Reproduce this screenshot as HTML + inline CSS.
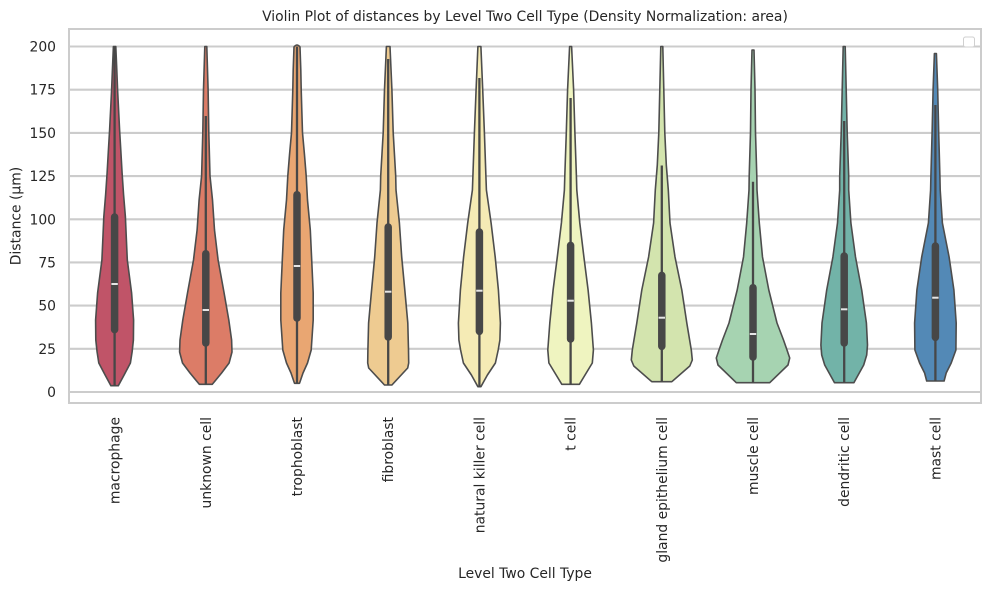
<!DOCTYPE html>
<html><head><meta charset="utf-8"><style>
html,body{margin:0;padding:0;background:#fff;}
svg{display:block;}
text{font-family:"DejaVu Sans","Liberation Sans",sans-serif;fill:#262626;font-size:13.9px;}
.v{stroke:#4d4d4d;stroke-width:1.6;stroke-linejoin:round;}
.w{stroke:#474747;stroke-width:2.3;}
.b{stroke:#474747;stroke-width:7.5;stroke-linecap:round;}
.m{stroke:#e6e6e6;stroke-width:2;}
</style></head><body>
<svg width="991" height="591" viewBox="0 0 991 591" xmlns="http://www.w3.org/2000/svg">
<rect width="991" height="591" fill="#fff"/>
<text x="525" y="21" text-anchor="middle">Violin Plot of distances by Level Two Cell Type (Density Normalization: area)</text>
<!-- grid -->
<g stroke="#cccccc" stroke-width="2.1">
<line x1="69" x2="981" y1="392" y2="392"/>
<line x1="69" x2="981" y1="348.8" y2="348.8"/>
<line x1="69" x2="981" y1="305.6" y2="305.6"/>
<line x1="69" x2="981" y1="262.4" y2="262.4"/>
<line x1="69" x2="981" y1="219.3" y2="219.3"/>
<line x1="69" x2="981" y1="176.1" y2="176.1"/>
<line x1="69" x2="981" y1="132.9" y2="132.9"/>
<line x1="69" x2="981" y1="89.7" y2="89.7"/>
<line x1="69" x2="981" y1="46.5" y2="46.5"/>
</g>
<rect x="69" y="29" width="912" height="374" fill="none" stroke="#cccccc" stroke-width="2"/>
<!-- y tick labels -->
<g text-anchor="end">
<text x="56" y="397">0</text>
<text x="56" y="353.8">25</text>
<text x="56" y="310.6">50</text>
<text x="56" y="267.4">75</text>
<text x="56" y="224.3">100</text>
<text x="56" y="181.1">125</text>
<text x="56" y="137.9">150</text>
<text x="56" y="94.7">175</text>
<text x="56" y="51.5">200</text>
</g>
<text transform="translate(20.7,216) rotate(-90)" text-anchor="middle">Distance (µm)</text>
<text x="525" y="578" text-anchor="middle">Level Two Cell Type</text>

<!-- violins -->
<g transform="translate(114.6,0)">
<path class="v" fill="#c05468" d="M-1.2,46.5 L1.2,46.5 L2.2,70 L3,90 L4,110 L5,130 L6.3,152 L7.5,173 L9,195 L10.8,217 L11.8,240 L12.7,260 L17,293 L19,320 L18.8,340 L17.5,352 L15.8,363 L9.5,375 L3.7,385.7 L-3.7,385.7 L-9.5,375 L-15.8,363 L-17.5,352 L-18.8,340 L-19,320 L-17,293 L-12.7,260 L-11.8,240 L-10.8,217 L-9,195 L-7.5,173 L-6.3,152 L-5,130 L-4,110 L-3,90 L-2.2,70 Z"/>
<line class="w" x1="0" x2="0" y1="46.5" y2="385.7"/>
<line class="b" x1="0" x2="0" y1="217" y2="329.6"/>
<line class="m" x1="-3.2" x2="3.2" y1="284" y2="284"/>
</g>
<g transform="translate(205.8,0)">
<path class="v" fill="#dc7c67" d="M-1,46.5 L1,46.5 L2.3,89.5 L3,132.7 L4.2,176 L6.7,200 L8.7,230 L12.3,260 L18.3,293 L23,320 L25.8,340 L26.2,352 L23.3,363 L15.8,373 L6.5,384.3 L-6.5,384.3 L-15.8,373 L-23.3,363 L-26.2,352 L-25.8,340 L-23,320 L-18.3,293 L-12.3,260 L-8.7,230 L-6.7,200 L-4.2,176 L-3,132.7 L-2.3,89.5 Z"/>
<line class="w" x1="0" x2="0" y1="116" y2="384.3"/>
<line class="b" x1="0" x2="0" y1="253.7" y2="343"/>
<line class="m" x1="-3.2" x2="3.2" y1="310" y2="310"/>
</g>
<g transform="translate(297,0)">
<path class="v" fill="#e9a672" d="M-3,47 Q0,43 3,47 L3.8,70 L4.2,89.5 L4.8,110 L5.5,132.7 L7.5,155 L9.2,176 L10.5,200 L13.3,230 L14.7,260 L16.2,293 L16.2,320 L14.2,350 L10.5,363 L6,373 L2.5,383.3 L-2.5,383.3 L-6,373 L-10.5,363 L-14.2,350 L-16.2,320 L-16.2,293 L-14.7,260 L-13.3,230 L-10.5,200 L-9.2,176 L-7.5,155 L-5.5,132.7 L-4.8,110 L-4.2,89.5 L-3.8,70 Z"/>
<line class="w" x1="0" x2="0" y1="46.5" y2="383.3"/>
<line class="b" x1="0" x2="0" y1="194.7" y2="318"/>
<line class="m" x1="-3.2" x2="3.2" y1="266" y2="266"/>
</g>
<g transform="translate(388.2,0)">
<path class="v" fill="#eecb91" d="M-1.8,46.5 L1.8,46.5 L3.7,89.5 L5,132.7 L7.5,176 L7.8,190 L11.2,223 L13.5,257 L16.6,290 L19.6,323 L20.3,350 L20.5,363 L19.5,368 L3.7,385 L-3.7,385 L-19.5,368 L-20.5,363 L-20.3,350 L-19.6,323 L-16.6,290 L-13.5,257 L-11.2,223 L-7.8,190 L-7.5,176 L-5,132.7 L-3.7,89.5 Z"/>
<line class="w" x1="0" x2="0" y1="59" y2="385"/>
<line class="b" x1="0" x2="0" y1="227" y2="337"/>
<line class="m" x1="-3.2" x2="3.2" y1="291.7" y2="291.7"/>
</g>
<g transform="translate(479.4,0)">
<path class="v" fill="#f5ebb5" d="M-1.5,46.5 L1.5,46.5 L3.3,89.5 L5,132.7 L6.5,176 L7,190 L11.7,223 L15.8,257 L19,290 L21,323 L20.5,340 L18.8,350 L16,363 L8,375 L1.5,386.7 L-1.5,386.7 L-8,375 L-16,363 L-18.8,350 L-20.5,340 L-21,323 L-19,290 L-15.8,257 L-11.7,223 L-7,190 L-6.5,176 L-5,132.7 L-3.3,89.5 Z"/>
<line class="w" x1="0" x2="0" y1="78" y2="386.7"/>
<line class="b" x1="0" x2="0" y1="232" y2="331.3"/>
<line class="m" x1="-3.2" x2="3.2" y1="290.7" y2="290.7"/>
</g>
<g transform="translate(570.6,0)">
<path class="v" fill="#eff4c0" d="M-1,46.5 L1,46.5 L3,89.5 L4.3,132.7 L5.8,176 L6.2,190 L9.2,223 L13.3,257 L17.5,290 L20.8,323 L22.8,350 L21.7,363 L8.8,384.3 L-8.8,384.3 L-21.7,363 L-22.8,350 L-20.8,323 L-17.5,290 L-13.3,257 L-9.2,223 L-6.2,190 L-5.8,176 L-4.3,132.7 L-3,89.5 Z"/>
<line class="w" x1="0" x2="0" y1="98" y2="384.3"/>
<line class="b" x1="0" x2="0" y1="245.4" y2="339"/>
<line class="m" x1="-3.2" x2="3.2" y1="300.7" y2="300.7"/>
</g>
<g transform="translate(661.8,0)">
<path class="v" fill="#d3e4ae" d="M-1,46.5 L1,46.5 L2,89.5 L3,132.7 L4.5,165 L6.5,190 L8.2,223 L13.2,257 L20,290 L25,323 L29.5,350 L30.5,360 L28,366 L10,381.7 L-10,381.7 L-28,366 L-30.5,360 L-29.5,350 L-25,323 L-20,290 L-13.2,257 L-8.2,223 L-6.5,190 L-4.5,165 L-3,132.7 L-2,89.5 Z"/>
<line class="w" x1="0" x2="0" y1="165.5" y2="381.7"/>
<line class="b" x1="0" x2="0" y1="275.4" y2="346.3"/>
<line class="m" x1="-3.2" x2="3.2" y1="317.7" y2="317.7"/>
</g>
<g transform="translate(753,0)">
<path class="v" fill="#a6d3b1" d="M-1,50 L1,50 L2,89.5 L2.5,132.7 L3.8,176 L4,190 L6.3,223 L9.5,257 L15.8,290 L24,323 L30.5,340 L34,350 L36.7,358 L35,365 L16.7,382.7 L-16.7,382.7 L-35,365 L-36.7,358 L-34,350 L-30.5,340 L-24,323 L-15.8,290 L-9.5,257 L-6.3,223 L-4,190 L-3.8,176 L-2.5,132.7 L-2,89.5 Z"/>
<line class="w" x1="0" x2="0" y1="181.7" y2="382.7"/>
<line class="b" x1="0" x2="0" y1="287.7" y2="357"/>
<line class="m" x1="-3.2" x2="3.2" y1="334" y2="334"/>
</g>
<g transform="translate(844.2,0)">
<path class="v" fill="#72b3a8" d="M-1,46.5 L1,46.5 L2,89.5 L3,132.7 L4.5,176 L4.5,190 L6.7,223 L11.3,257 L17.5,290 L22.2,323 L23.3,345 L22.5,355 L19.5,365 L9.7,382.7 L-9.7,382.7 L-19.5,365 L-22.5,355 L-23.3,345 L-22.2,323 L-17.5,290 L-11.3,257 L-6.7,223 L-4.5,190 L-4.5,176 L-3,132.7 L-2,89.5 Z"/>
<line class="w" x1="0" x2="0" y1="121" y2="382.7"/>
<line class="b" x1="0" x2="0" y1="256" y2="343"/>
<line class="m" x1="-3.2" x2="3.2" y1="309.3" y2="309.3"/>
</g>
<g transform="translate(935.4,0)">
<path class="v" fill="#5389b6" d="M-1,53.5 L1,53.5 L2.3,89.5 L3.3,132.7 L4.5,176 L4.8,190 L7,223 L13.7,257 L18.5,290 L20.8,323 L20.5,350 L15.8,363 L10.8,373 L8.7,381 L-8.7,381 L-10.8,373 L-15.8,363 L-20.5,350 L-20.8,323 L-18.5,290 L-13.7,257 L-7,223 L-4.8,190 L-4.5,176 L-3.3,132.7 L-2.3,89.5 Z"/>
<line class="w" x1="0" x2="0" y1="105" y2="381"/>
<line class="b" x1="0" x2="0" y1="246" y2="337.3"/>
<line class="m" x1="-3.2" x2="3.2" y1="297.7" y2="297.7"/>
</g>

<!-- legend box (empty) -->
<rect x="963.5" y="37" width="11" height="10" rx="2" fill="#fff" stroke="#d0d0d0" stroke-width="1"/>

<!-- x tick labels -->
<g text-anchor="end">
<text transform="translate(119.6,417) rotate(-90)">macrophage</text>
<text transform="translate(210.8,417) rotate(-90)">unknown cell</text>
<text transform="translate(302,417) rotate(-90)">trophoblast</text>
<text transform="translate(393.2,417) rotate(-90)">fibroblast</text>
<text transform="translate(484.4,417) rotate(-90)">natural killer cell</text>
<text transform="translate(575.6,417) rotate(-90)">t cell</text>
<text transform="translate(666.8,417) rotate(-90)">gland epithelium cell</text>
<text transform="translate(758,417) rotate(-90)">muscle cell</text>
<text transform="translate(849.2,417) rotate(-90)">dendritic cell</text>
<text transform="translate(940.4,417) rotate(-90)">mast cell</text>
</g>
</svg>
</body></html>
